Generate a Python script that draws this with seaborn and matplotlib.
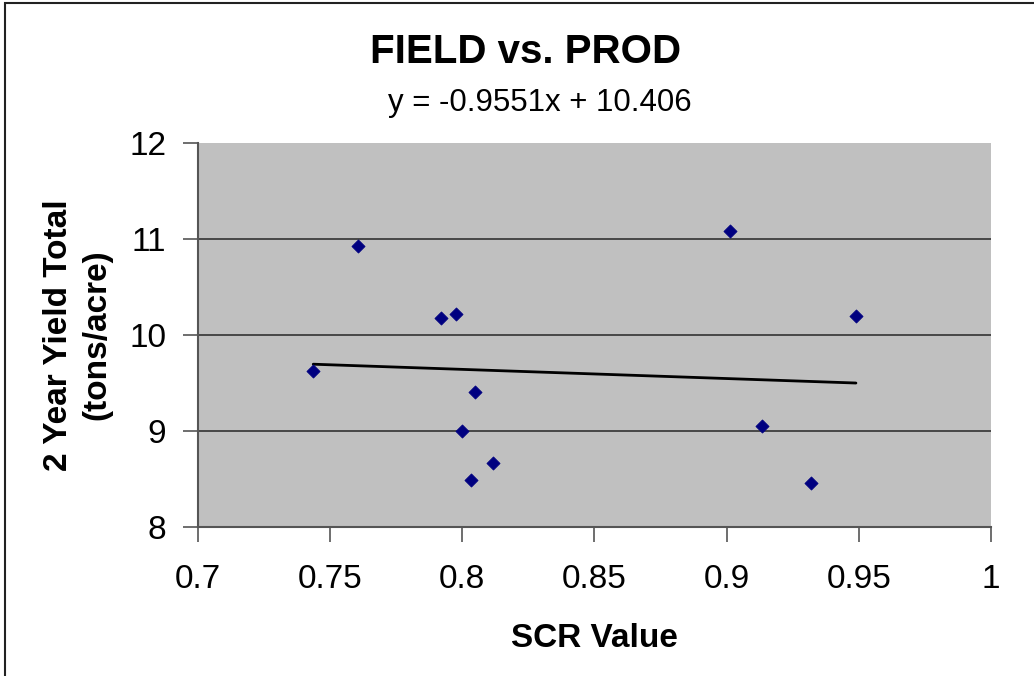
import matplotlib
matplotlib.use("Agg")
import matplotlib.pyplot as plt
import seaborn as sns
import numpy as np
import pandas as pd
from matplotlib.patches import Rectangle

scr = [0.7436, 0.7606, 0.7920, 0.7977, 0.8049, 0.8000, 0.8034, 0.8117, 0.9011, 0.9489, 0.9133, 0.9318]
yield_total = [9.625, 10.927, 10.177, 10.219, 9.406, 9.00, 8.49, 8.667, 11.083, 10.198, 9.052, 8.458]
slope = -0.9551
intercept = 10.406
x_ticks = [0.7, 0.75, 0.8, 0.85, 0.9, 0.95, 1.0]
x_tick_labels = ["0.7", "0.75", "0.8", "0.85", "0.9", "0.95", "1"]
y_ticks = [8, 9, 10, 11, 12]

sns.set_style("white")
plt.rcParams['font.family'] = ['Liberation Sans', 'DejaVu Sans']
plt.rcParams['text.color'] = 'black'
plt.rcParams['xtick.color'] = '#555555'
plt.rcParams['ytick.color'] = '#555555'
plt.rcParams['xtick.labelcolor'] = 'black'
plt.rcParams['ytick.labelcolor'] = 'black'
plt.rcParams['xtick.bottom'] = True
plt.rcParams['ytick.left'] = True
plt.rcParams['axes.labelcolor'] = 'black'

df = pd.DataFrame({"SCR": scr, "Yield": yield_total})

fig = plt.figure(figsize=(10.34, 6.76), dpi=100)
ax = fig.add_axes([198/1034, 1-527/676, (991-198)/1034, (527-143)/676])
ax.set_facecolor("#c0c0c0")

ax.set_xlim(0.7, 1.0)
ax.set_ylim(8, 12)
for yv in y_ticks[1:-1]:
    ax.axhline(yv, color="#333333", lw=1.2, zorder=1)

xs = np.array([min(scr), max(scr)])
ax.plot(xs, slope * xs + intercept, color="black", lw=2, zorder=2)
sns.scatterplot(data=df, x="SCR", y="Yield", ax=ax, marker="D", s=45,
                color="#000080", edgecolor="#000080", zorder=3)

ax.set_xticks(x_ticks)
ax.set_xticklabels(x_tick_labels)
ax.set_yticks(y_ticks)
ax.tick_params(axis="both", direction="out", length=11, width=1.2,
               labelsize=24)
ax.tick_params(axis="x", pad=16)
ax.tick_params(axis="y", pad=12)
for side in ["left", "bottom"]:
    ax.spines[side].set_color("#555555")
    ax.spines[side].set_linewidth(1.5)
for side in ["top", "right"]:
    ax.spines[side].set_visible(False)

ax.set_xlabel("SCR Value", fontsize=24, fontweight="bold", labelpad=20)
ax.set_ylabel("2 Year Yield Total\n(tons/acre)", fontsize=24, fontweight="bold", labelpad=12,
              linespacing=1.3)

fig.text(526/1034, 1-52/676, "FIELD vs. PROD", ha="center", va="center", fontsize=29, fontweight="bold")
fig.text(540/1034, 1-103/676, "y = -0.9551x + 10.406", ha="center", va="center", fontsize=22.5)

border = Rectangle((5/1034, -0.5), 1.0, 1 - 3/676 + 0.5, transform=fig.transFigure,
                   fill=False, edgecolor="#222222", lw=1.5)
fig.patches.append(border)

fig.savefig("out.png", dpi=100)
